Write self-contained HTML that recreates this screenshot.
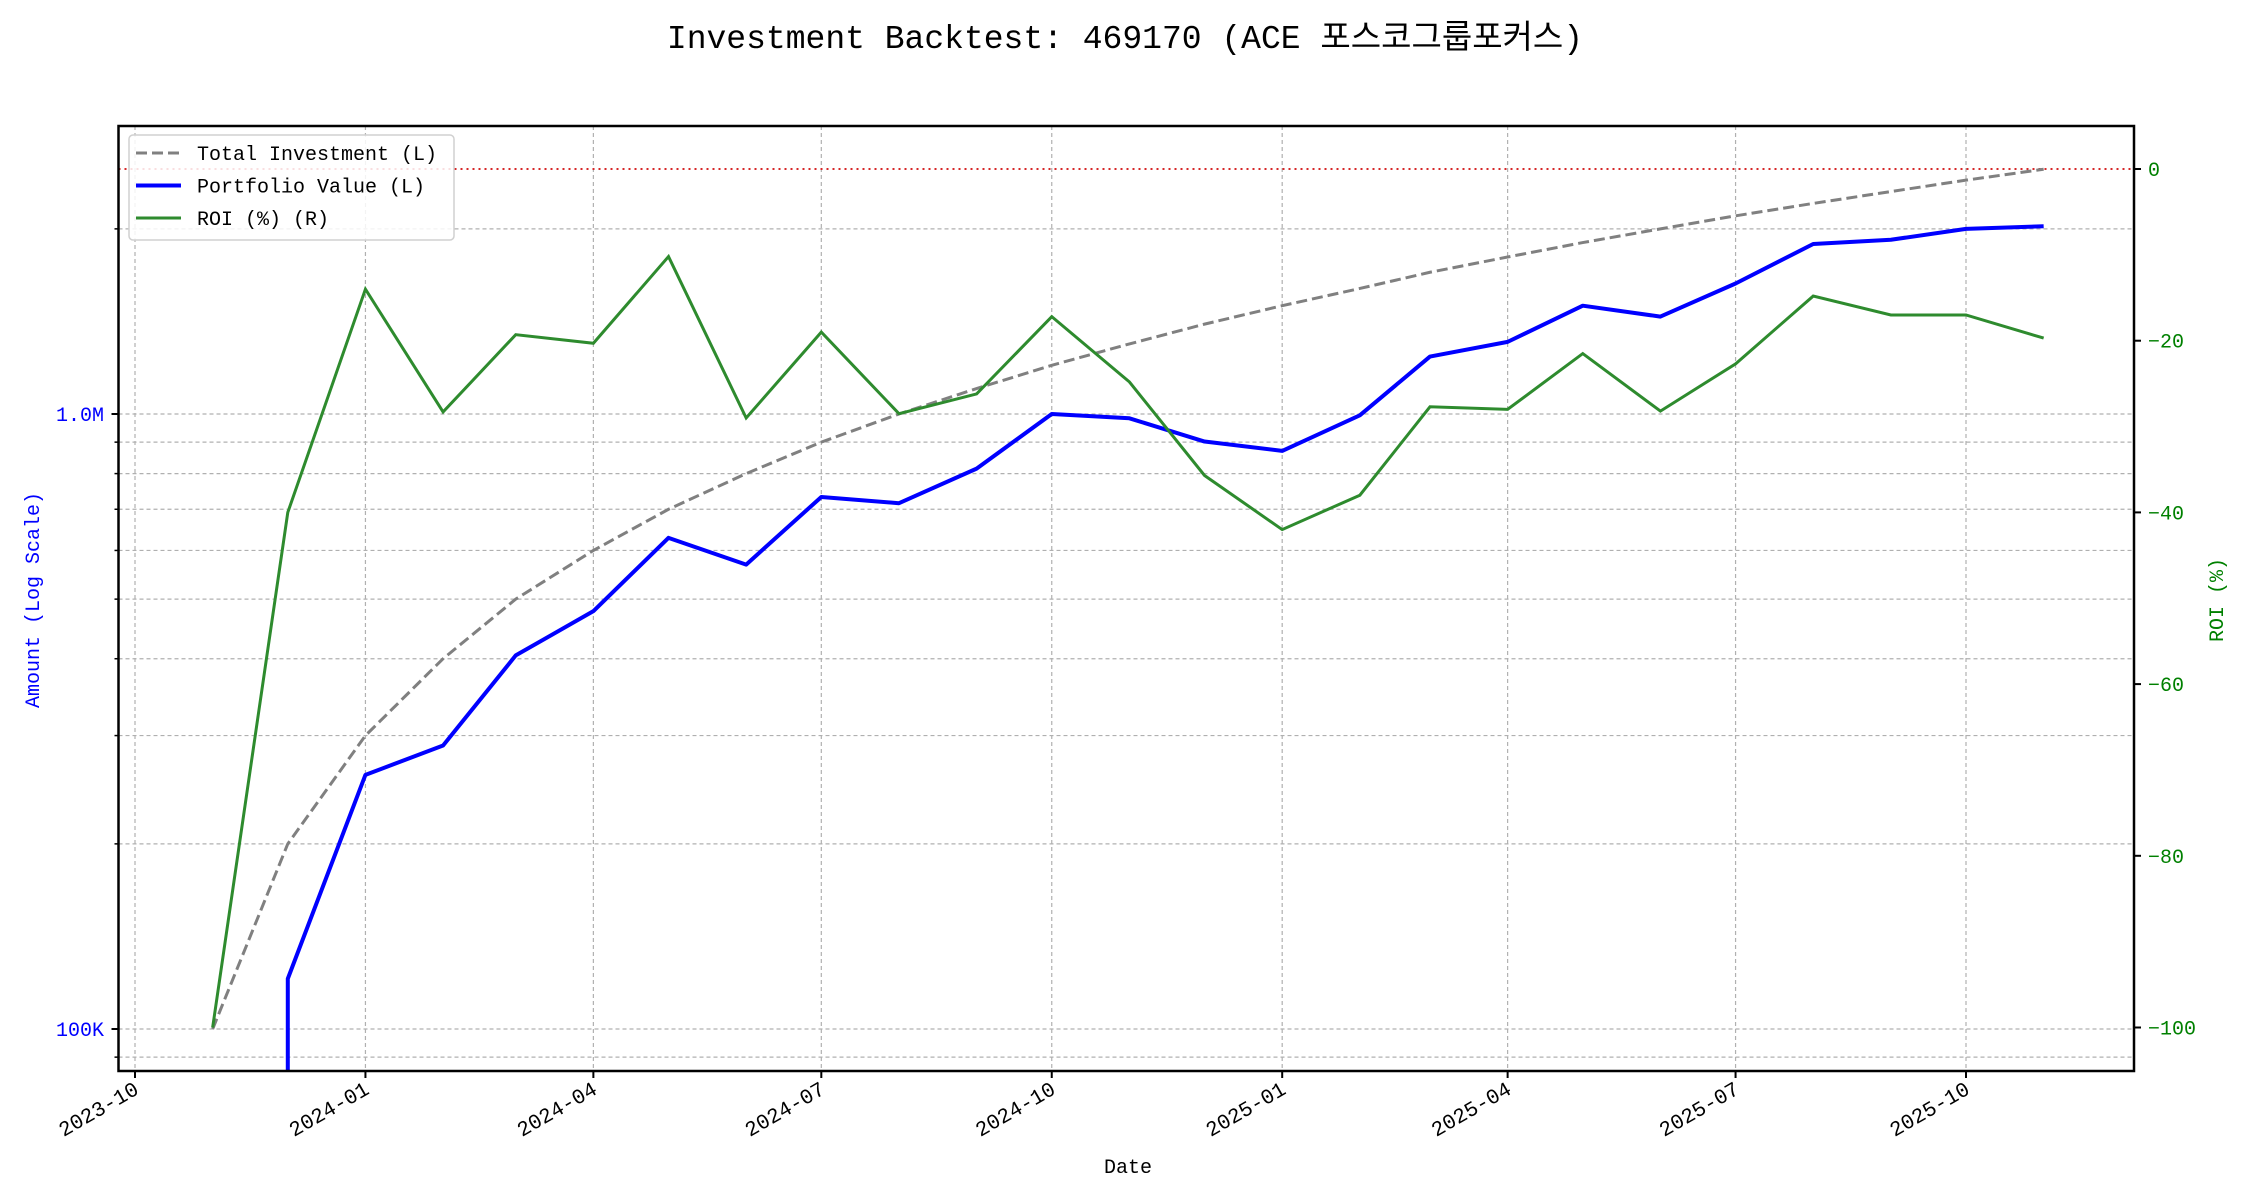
<!DOCTYPE html>
<html><head><meta charset="utf-8"><style>
body{margin:0;background:#fff}
svg{display:block}
text{font-family:"Liberation Mono","Noto Sans CJK KR",monospace}
</style></head><body>
<svg id="chart" width="2250" height="1200" xmlns="http://www.w3.org/2000/svg"></svg>
<script>
const dates = ["2023-11-01","2023-12-01","2024-01-01","2024-02-01","2024-03-01","2024-04-01","2024-05-01","2024-06-01","2024-07-01","2024-08-01","2024-09-01","2024-10-01","2024-11-01","2024-12-01","2025-01-01","2025-02-01","2025-03-01","2025-04-01","2025-05-01","2025-06-01","2025-07-01","2025-08-01","2025-09-01","2025-10-01","2025-11-01"];
const investment = [100000,200000,300000,400000,500000,600000,700000,800000,900000,1000000,1100000,1200000,1300000,1400000,1500000,1600000,1700000,1800000,1900000,2000000,2100000,2200000,2300000,2400000,2500000];
const portfolio = [0,120700,259000,289000,405000,478000,629000,569000,733000,716000,815000,1000000,984000,902000,871000,995000,1240000,1310000,1500000,1440000,1630000,1890000,1920000,2000000,2020000];
const roi = [-100,-40,-14,-28.3,-19.3,-20.3,-10.2,-29,-19,-28.5,-26.2,-17.2,-24.8,-35.7,-42,-38,-27.7,-28,-21.5,-28.2,-22.7,-14.8,-17,-17,-19.7];
const xTicks = ["2023-10","2024-01","2024-04","2024-07","2024-10","2025-01","2025-04","2025-07","2025-10"];
const yLeftMajor = [100000,1000000];
const yLeftMajorLabels = ["100K","1.0M"];
const yLeftMinor = [90000,200000,300000,400000,500000,600000,700000,800000,900000,2000000];
const yRightTicks = [0,-20,-40,-60,-80,-100];

const NS="http://www.w3.org/2000/svg";
const svg=document.getElementById('chart');
const L=118.5,R=2134,T=126,B=1071;
const day=86400000, t0=Date.parse("2023-10-01"), pxDay=(1966-135)/731;
function X(d){return 135+(Date.parse(d.length==7?d+"-01":d)-t0)/day*pxDay;}
function YL(v){return 414-Math.log10(v/1e6)*615;}
function YRr(v){return 169+(-v)*8.585;}
function el(tag,attrs,parent){const e=document.createElementNS(NS,tag);for(const k in attrs)e.setAttribute(k,attrs[k]);(parent||svg).appendChild(e);return e;}

const grid=el('g',{});


xTicks.forEach(t=>{const x=X(t);el('line',{x1:x,x2:x,y1:T,y2:B,stroke:'#b0b0b0','stroke-width':1.2,'stroke-dasharray':'4,3'},grid);});
yLeftMajor.concat(yLeftMinor).forEach(v=>{const y=YL(v);el('line',{x1:L,x2:R,y1:y,y2:y,stroke:'#b0b0b0','stroke-width':1.2,'stroke-dasharray':'4,3'},grid);});

const zl=el('line',{x1:L,x2:R,y1:YRr(0),y2:YRr(0),stroke:'#d62728','stroke-width':2,'stroke-dasharray':'2,4'});



const invPts=dates.map((d,i)=>X(d)+','+YL(investment[i])).join(' ');
const inv=el('polyline',{points:invPts,fill:'none',stroke:'#808080','stroke-width':3,'stroke-dasharray':'11,5'});


const pxs=[];let started=false;
dates.forEach((d,i)=>{if(portfolio[i]>0){if(!started){pxs.push(X(d)+','+B);started=true;}pxs.push(X(d)+','+YL(portfolio[i]));}});
const pv=el('polyline',{points:pxs.join(' '),fill:'none',stroke:'#0000ff','stroke-width':4,'stroke-linejoin':'round'});


const rl=el('polyline',{points:dates.map((d,i)=>X(d)+','+YRr(roi[i])).join(' '),fill:'none',stroke:'#2e8b2e','stroke-width':3});



const fr=el('rect',{x:L,y:T,width:R-L,height:B-T,fill:'none',stroke:'#000','stroke-width':2.5});



xTicks.forEach(t=>{const x=X(t);el('line',{x1:x,x2:x,y1:B,y2:B+7,stroke:'#000','stroke-width':2});
 const tx=el('text',{x:0,y:0,'font-size':21,'text-anchor':'end',fill:'#000',transform:`translate(${x+5},${B+22}) rotate(-30)`});tx.textContent=t;
 
 });
yLeftMajor.forEach((v,i)=>{const y=YL(v);el('line',{x1:L-7,x2:L,y1:y,y2:y,stroke:'#000','stroke-width':2});
 const tx=el('text',{x:104,y:y+7,'font-size':20,'text-anchor':'end',fill:'#0000ff'});tx.textContent=yLeftMajorLabels[i];
 
 });
yLeftMinor.forEach(v=>{const y=YL(v);el('line',{x1:L-4,x2:L,y1:y,y2:y,stroke:'#000','stroke-width':1.5});});
yRightTicks.forEach(v=>{const y=YRr(v);el('line',{x1:R,x2:R+7,y1:y,y2:y,stroke:'#000','stroke-width':2});
 const tx=el('text',{x:R+14,y:y+7,'font-size':20,fill:'#008000'});tx.textContent=v<0?'−'+(-v):String(v);
 
 });

let t=el('text',{x:1125,y:48,'font-size':33,'text-anchor':'middle',fill:'#000'});t.textContent='Investment Backtest: 469170 (ACE 포스코그룹포커스)';


t=el('text',{x:1128,y:1173,'font-size':20,'text-anchor':'middle',fill:'#000'});t.textContent='Date';


t=el('text',{x:0,y:0,'font-size':20,'text-anchor':'middle',fill:'#0000ff',transform:'translate(39,600) rotate(-90)'});t.textContent='Amount (Log Scale)';


t=el('text',{x:0,y:0,'font-size':20,'text-anchor':'middle',fill:'#008000',transform:'translate(2223,600) rotate(-90)'});t.textContent='ROI (%)';



const lg=el('g',{});


el('rect',{x:129,y:135,width:325,height:105,rx:4,fill:'#fff','fill-opacity':0.85,stroke:'#d0d0d0','stroke-width':1.5},lg);
const items=[['Total Investment (L)','#808080',3,'11,5'],['Portfolio Value (L)','#0000ff',4,''],['ROI (%) (R)','#2e8b2e',3,'']];
items.forEach((it,i)=>{const y=153+i*32.5;
 const ln=el('line',{x1:136,x2:181,y1:y,y2:y,stroke:it[1],'stroke-width':it[2],'stroke-dasharray':it[3]},lg);
 
 
 const tx=el('text',{x:197,y:y+7,'font-size':20,fill:'#000'},lg);tx.textContent=it[0];
 
 });
</script>
</body></html>
